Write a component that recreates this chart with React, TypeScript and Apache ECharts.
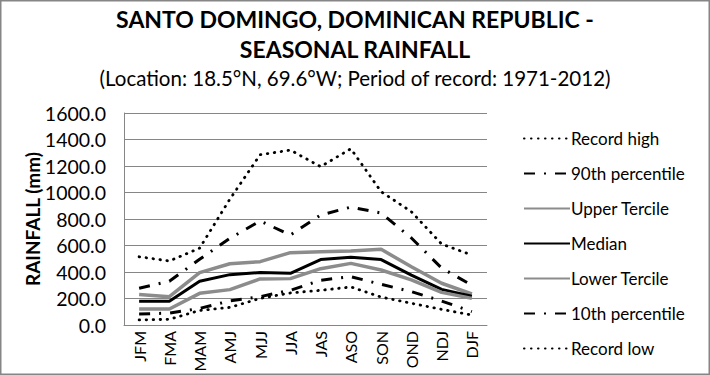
import React, { useEffect, useRef } from "react";
import * as echarts from "echarts";

const categories = ["JFM", "FMA", "MAM", "AMJ", "MJJ", "JJA", "JAS", "ASO", "SON", "OND", "NDJ", "DJF"];
const recordHigh = [515, 483, 580, 950, 1285, 1320, 1195, 1330, 1006, 855, 611, 528];
const p90 = [277, 330, 496, 654, 785, 679, 830, 890, 845, 657, 430, 300];
const upperTercile = [231, 214, 395, 462, 478, 546, 553, 558, 571, 440, 315, 234];
const median = [180, 180, 330, 380, 396, 390, 494, 512, 494, 377, 269, 217];
const lowerTercile = [121, 121, 239, 267, 348, 350, 425, 465, 415, 340, 246, 201];
const p10 = [83, 90, 125, 182, 214, 262, 338, 365, 307, 252, 181, 101];
const recordLow = [38, 43, 110, 133, 201, 242, 262, 287, 211, 164, 118, 75];
const yTicks = [0, 200, 400, 600, 800, 1000, 1200, 1400, 1600];

const FONT = "Lato";

export default function App() {
  const ref = useRef<HTMLDivElement>(null);
  useEffect(() => {
    if (!ref.current) return;
    const chart = echarts.init(ref.current, null, { renderer: "svg" });
    const dotted = { type: [0.5, 6.5] as number[], width: 2.8, cap: "round" as const, color: "#000" };
    const dashDot = { type: [11, 9, 2, 9] as number[], width: 3, cap: "butt" as const, color: "#000" };
    const mk = (name: string, data: number[], lineStyle: any) => ({
      name,
      type: "line",
      data,
      symbol: "none",
      lineStyle,
      itemStyle: { color: "rgba(0,0,0,0)", borderWidth: 0 },
      z: 2,
    });
    chart.setOption({
      animation: false,
      backgroundColor: "#fff",
      title: [
        {
          text: "SANTO DOMINGO, DOMINICAN REPUBLIC -\nSEASONAL RAINFALL",
          left: "center",
          top: -1,
          textStyle: { fontFamily: FONT, fontWeight: "bold", fontSize: 23, lineHeight: 30, color: "#000" },
        },
        {
          text: "(Location: 18.5°N, 69.6°W; Period of record: 1971-2012)",
          left: "center",
          top: 62,
          textStyle: { fontFamily: FONT, fontWeight: "normal", fontSize: 20.5, color: "#000" },
        },
      ],
      legend: {
        orient: "vertical",
        left: 518,
        top: 125,
        itemWidth: 46,
        itemHeight: 14,
        itemGap: 18,
        itemStyle: { opacity: 0 },
        textStyle: { fontFamily: FONT, fontSize: 17, color: "#000", padding: [0, 0, 0, -4] },
        data: ["Record high", "90th percentile", "Upper Tercile", "Median", "Lower Tercile", "10th percentile", "Record low"],
      },
      grid: { left: 124, right: 223, top: 113, bottom: 50 },
      xAxis: {
        type: "category",
        data: categories,
        boundaryGap: true,
        axisLine: { lineStyle: { color: "#868686", width: 1 } },
        axisTick: { show: false },
        axisLabel: { rotate: 90, fontFamily: FONT, fontSize: 16, color: "#000", margin: 6 },
      },
      yAxis: {
        type: "value",
        min: yTicks[0],
        max: yTicks[yTicks.length - 1],
        interval: 200,
        name: "RAINFALL (mm)",
        nameLocation: "middle",
        nameGap: 82,
        nameMoveOverlap: false,
        nameRotate: 90,
        nameTextStyle: { fontFamily: FONT, fontWeight: "bold", fontSize: 19, color: "#000" },
        axisLine: { show: true, lineStyle: { color: "#868686", width: 1 } },
        axisTick: { show: false },
        splitLine: { lineStyle: { color: "#868686", width: 1 } },
        axisLabel: {
          fontFamily: FONT,
          fontSize: 19.5,
          color: "#000",
          margin: 18,
          formatter: (v: number) => v.toFixed(1),
        },
      },
      series: [
        mk("Record high", recordHigh, dotted),
        mk("90th percentile", p90, dashDot),
        mk("Upper Tercile", upperTercile, { type: "solid", width: 3.5, color: "#8c8c8c" }),
        mk("Median", median, { type: "solid", width: 3, color: "#000" }),
        mk("Lower Tercile", lowerTercile, { type: "solid", width: 3.5, color: "#8c8c8c" }),
        mk("10th percentile", p10, dashDot),
        mk("Record low", recordLow, dotted),
      ],
      graphic: [
        {
          type: "rect",
          shape: { x: 0.5, y: 0.5, width: 709, height: 374 },
          style: { fill: "none", stroke: "#868686", lineWidth: 2 },
          silent: true,
        },
      ],
    });
    return () => chart.dispose();
  }, []);
  return (
    <div
      ref={ref}
      style={{ position: "fixed", left: 0, top: 0, width: 710, height: 375, background: "#fff" }}
    />
  );
}
